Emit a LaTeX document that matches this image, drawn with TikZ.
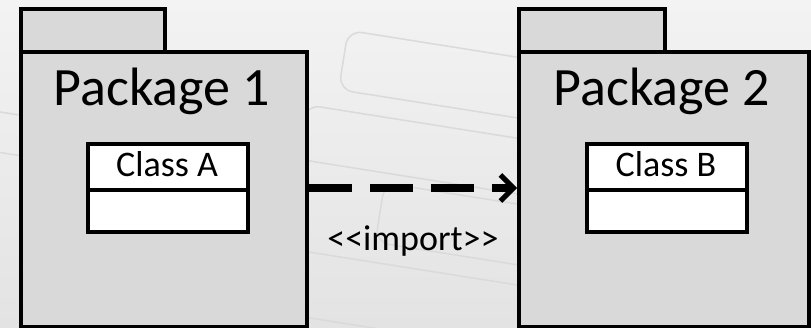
\documentclass[tikz,border=0pt]{standalone}
\usepackage{fontspec}
\setmainfont{Carlito}
\usetikzlibrary{arrows.meta}
\definecolor{pkgfill}{HTML}{D9D9D9}
\definecolor{bgtop}{HTML}{F3F3F3}
\definecolor{bgbot}{HTML}{E3E3E3}
\definecolor{faint}{HTML}{DADADA}
\tikzset{
  pkgpart/.style={draw=black, line width=4pt, fill=pkgfill, inner sep=0pt, anchor=north west},
  classpart/.style={draw=black, line width=4pt, fill=white, inner sep=0pt, anchor=north west, minimum width=160pt},
  pkgtitle/.style={font=\fontsize{54}{60}\selectfont, anchor=base, inner sep=0pt},
  classtitle/.style={font=\fontsize{36}{40}\selectfont, anchor=base, inner sep=0pt},
  deco/.style={draw=faint, line width=1.5pt, rounded corners=14pt},
  importline/.style={line width=8pt, dash pattern=on 43pt off 18pt,
    -{Straight Barb[length=13pt,width=26pt,line width=5pt]}}
}
\begin{document}
\begin{tikzpicture}[x=1pt,y=-1pt]
\useasboundingbox (0,0) rectangle (811,328);
\shade[top color=bgtop, bottom color=bgbot] (0,0) rectangle (811,328);
% faint background decoration
\begin{scope}[rotate around={-9:(400,150)}]
  \draw[deco] (330,40) rectangle (560,100);
  \draw[deco] (300,120) rectangle (640,175);
  \draw[deco] (390,185) rectangle (700,245);
  \draw[deco] (260,265) rectangle (560,330);
  \draw[deco] (-20,175) rectangle (120,215);
  \draw[deco] (640,20) rectangle (860,70);
\end{scope}
% Package 1
\node[pkgpart, minimum width=144pt, minimum height=43pt] (tab1) at (19,7) {};
\node[pkgpart, minimum width=286pt, minimum height=275pt] (body1) at (19,50) {};
\node[pkgtitle] (title1) at (162,106) {Package 1};
\node[classpart, minimum height=46pt] (classA) at (86,142) {};
\node[classpart, minimum height=42pt] (classAattr) at (86,188) {};
\node[classtitle] (classAname) at (167,177) {Class A};
% Package 2
\node[pkgpart, minimum width=146pt, minimum height=43pt] (tab2) at (517,7) {};
\node[pkgpart, minimum width=290pt, minimum height=275pt] (body2) at (517,50) {};
\node[pkgtitle] (title2) at (662,106) {Package 2};
\node[classpart, minimum height=46pt] (classB) at (585,142) {};
\node[classpart, minimum height=42pt] (classBattr) at (585,188) {};
\node[classtitle] (classBname) at (666,177) {Class B};
% import dependency
\coordinate (imp1) at (body1.east |- classAattr.north);
\coordinate (imp2) at (body2.west |- classAattr.north);
\draw[importline] (imp1) -- (imp2);
\node[classtitle] (implabel) at (413,251) {{<}{<}import{>}{>}};
\end{tikzpicture}
\end{document}
